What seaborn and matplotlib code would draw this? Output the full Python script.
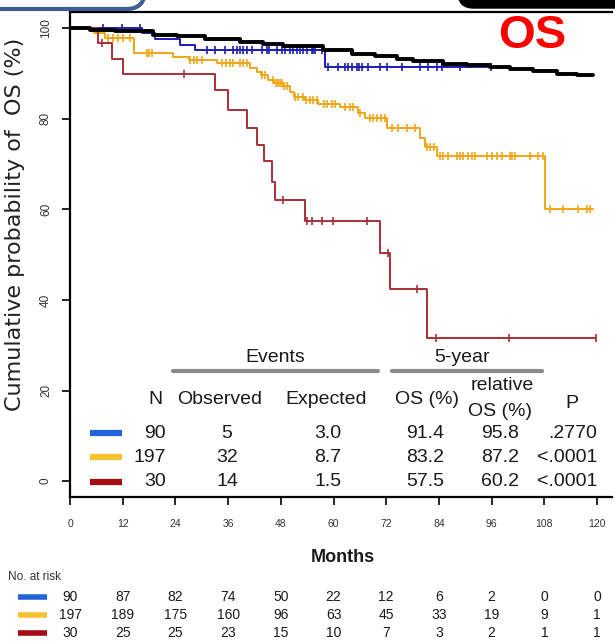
import numpy as np
import pandas as pd
import matplotlib
matplotlib.use("Agg")
import matplotlib.pyplot as plt
import seaborn as sns
from matplotlib.lines import Line2D
from matplotlib.patches import FancyBboxPatch
from matplotlib.transforms import blended_transform_factory

# ---------------------------------------------------------------- data
months_ticks = [0, 12, 24, 36, 48, 60, 72, 84, 96, 108, 120]
y_ticks = [0, 20, 40, 60, 80, 100]

# group 1 (blue)
blue_t = [0, 16.4, 19.4, 25.0, 28.5, 58.0]
blue_s = [100, 98.9, 97.7, 96.4, 95.2, 91.4]
blue_end = 95.8
blue_cens = [7.5, 11.8, 16.0, 31.2, 33.0, 35.3, 37.1, 38.0, 38.7, 39.4, 40.3,
             41.4, 43.7, 44.9, 45.3, 47.1, 48.3, 48.9, 50.1, 50.8, 51.7, 52.4,
             53.1, 54.0, 55.1, 55.4, 55.8, 57.4, 58.7, 61.0, 62.6, 63.3, 64.2,
             65.4, 65.8, 66.5, 67.9, 70.6, 72.2, 75.6, 79.7, 81.5, 83.6, 84.7,
             88.8, 95.8]

# group 2 (yellow)
yel_t = [0, 5.5, 8.0, 14.5, 23.5, 27.0, 33.5, 41.0, 42.5, 43.5, 45.0, 46.5,
         48.5, 50.0, 51.0, 53.5, 56.5, 61.5, 65.6, 67.2, 72.2, 79.7, 80.9,
         83.6, 108.2]
yel_s = [100, 98.9, 97.9, 94.6, 93.7, 92.9, 92.3, 91.3, 90.4, 89.6, 88.6, 87.9,
         87.2, 86.0, 84.9, 84.2, 83.2, 82.6, 81.3, 80.2, 78.0, 75.8, 73.8,
         71.8, 60.1]
yel_end = 119.0
yel_cens = [8.7, 9.8, 10.9, 12.1, 13.7, 17.5, 18.0, 18.7, 27.3, 28.2, 29.0,
            30.0, 34.6, 35.5, 36.4, 37.2, 38.7, 39.5, 40.3, 43.8, 44.5, 46.3,
            46.8, 47.3, 47.8, 48.3, 48.8, 49.3, 51.3, 52.0, 53.0, 53.8, 54.6,
            55.4, 56.2, 57.8, 58.6, 59.6, 60.4, 62.6, 63.8, 64.4, 66.1, 68.2,
            68.9, 70.0, 70.7, 71.8, 73.3, 74.7, 76.7, 78.6, 81.2, 81.9, 82.9,
            84.3, 85.0, 86.1, 88.2, 88.8, 89.5, 90.7, 91.6, 92.3, 95.0, 96.1,
            97.3, 98.4, 100.2, 100.6, 101.4, 104.8, 106.6, 107.7, 109.3, 112.3,
            115.7, 117.8, 118.5]

# group 3 (red)
red_t = [0, 6.4, 9.6, 12.1, 33.0, 36.0, 40.3, 42.6, 44.2, 45.9, 46.7, 53.5,
         70.6, 72.9, 81.3]
red_s = [100, 96.7, 93.3, 90.0, 86.4, 82.0, 78.0, 74.3, 70.6, 66.1, 62.1, 57.5,
         50.4, 42.4, 31.6]
red_end = 119.7
red_cens = [7.3, 26.0, 48.5, 54.0, 55.1, 57.4, 59.9, 67.6, 72.5, 79.0, 83.4,
            100.0, 119.7]

# expected survival of the matched general population
exp_t = [0, 4.5, 10.2, 19.0, 24.4, 30.7, 38.7, 44.0, 48.5, 57.6, 64.2, 69.5,
         74.5, 78.1, 84.9, 90.4, 95.6, 100.2, 105.4, 110.9, 115.4]
exp_s = [100, 99.7, 99.3, 98.6, 98.2, 97.7, 97.0, 96.5, 96.0, 95.2, 94.4, 93.8,
         93.2, 92.7, 92.2, 91.9, 91.5, 91.0, 90.5, 90.0, 89.6]
exp_end = 119.1

# summary table
tab_n = ["90", "197", "30"]
tab_obs = ["5", "32", "14"]
tab_exp = ["3.0", "8.7", "1.5"]
tab_os = ["91.4", "83.2", "57.5"]
tab_rel = ["95.8", "87.2", "60.2"]
tab_p = [".2770", "<.0001", "<.0001"]

# numbers at risk
risk_blue = [90, 87, 82, 74, 50, 22, 12, 6, 2, 0, 0]
risk_yel = [197, 189, 175, 160, 96, 63, 45, 33, 19, 9, 1]
risk_red = [30, 25, 25, 23, 15, 10, 7, 3, 2, 1, 1]

# ---------------------------------------------------------------- style
curve_cols = ["#1c1cb4", "#f2a516", "#a8303a"]
swatch_cols = ["#2165dc", "#f5c232", "#a80a12"]

sns.set_theme(style="white")
plt.rcParams["font.family"] = ["Liberation Sans", "DejaVu Sans"]

W, H = 615, 641
fig = plt.figure(figsize=(W / 100, H / 100), dpi=100)
ax = fig.add_axes([70 / W, 144 / H, 542 / W, 485 / H])


def px(x, y):
    """figure fraction from pixel position measured from top-left."""
    return x / W, 1 - y / H


def km_frame(times, surv, end):
    return pd.DataFrame({"month": list(times) + [end],
                         "surv": list(surv) + [surv[-1]]})


def surv_at(times, surv, when):
    idx = np.searchsorted(np.asarray(times), np.asarray(when), side="right") - 1
    return np.asarray(surv)[idx]


groups = [(blue_t, blue_s, blue_end, blue_cens),
          (yel_t, yel_s, yel_end, yel_cens),
          (red_t, red_s, red_end, red_cens)]

for (t, s, end, cens), col in zip(groups, curve_cols):
    df = km_frame(t, s, end)
    sns.lineplot(data=df, x="month", y="surv", drawstyle="steps-post",
                 color=col, lw=1.4, estimator=None, sort=False, ax=ax,
                 zorder=3)
    sns.scatterplot(x=cens, y=surv_at(t, s, cens), marker="|", s=40,
                    linewidth=1.2, color=col, ax=ax, zorder=4)

df_exp = km_frame(exp_t, exp_s, exp_end)
sns.lineplot(data=df_exp, x="month", y="surv", drawstyle="steps-post",
             color="black", lw=2.8, estimator=None, sort=False, ax=ax,
             zorder=5)

# ---------------------------------------------------------------- axes
ax.set_xlim(0, 542 / 4.392)
ax.set_ylim(-3.5, 103.6)
ax.set_xticks(months_ticks)
ax.set_yticks(y_ticks)
ax.set_xticklabels([str(m) for m in months_ticks], fontsize=7.5, color="#333333")
ax.set_yticklabels([str(v) for v in y_ticks], fontsize=8.5, color="#333333",
                   rotation=90, va="center")
ax.tick_params(axis="both", direction="out", length=6, width=1.2,
               color="black", bottom=True, left=True)
ax.tick_params(axis="x", pad=10)
ax.tick_params(axis="y", pad=7)
for side in ["left", "bottom", "top"]:
    ax.spines[side].set_color("black")
    ax.spines[side].set_linewidth(1.6)
ax.spines["right"].set_visible(False)
ax.set_xlabel("")
ax.set_ylabel("")
fig.text(*px(15, 224), "Cumulative probability of  OS (%)", fontsize=16,
         family=["DejaVu Sans"], color="#222222", rotation=90,
         ha="center", va="center")

# banner decorations along the top edge
fig.add_artist(FancyBboxPatch(px(-30, 9), 175 / W, 60 / H,
                              boxstyle="round,pad=0,rounding_size=0.03",
                              transform=fig.transFigure, facecolor="white",
                              edgecolor="#3c5e92", lw=3, zorder=10))
fig.add_artist(FancyBboxPatch(px(458, 8), 200 / W, 50 / H,
                              boxstyle="round,pad=0,rounding_size=0.025",
                              transform=fig.transFigure, facecolor="black",
                              edgecolor="black", lw=1, zorder=10))

# title tag
fig.text(*px(532, 48), "OS", color="#ff0000", fontsize=34, fontweight="bold",
         ha="center", va="baseline", zorder=20)

# ---------------------------------------------------------------- table
tfs = 14
txt = dict(fontsize=tfs, color="#1a1a1a", va="center")
fig.text(*px(275, 358), "Events", ha="center", **txt)
fig.text(*px(462, 358), "5-year", ha="center", **txt)
fig.add_artist(Line2D([173 / W, 378 / W], [1 - 371 / H] * 2, color="#8a8a8a",
                      lw=3, transform=fig.transFigure))
fig.add_artist(Line2D([392 / W, 542 / W], [1 - 371 / H] * 2, color="#8a8a8a",
                      lw=3, transform=fig.transFigure))
fig.text(*px(155, 399), "N", ha="center", **txt)
fig.text(*px(220, 399), "Observed", ha="center", **txt)
fig.text(*px(326, 399), "Expected", ha="center", **txt)
fig.text(*px(427, 399), "OS (%)", ha="center", **txt)
fig.text(*px(502, 385), "relative", ha="center", **txt)
fig.text(*px(500, 412), "OS (%)", ha="center", **txt)
fig.text(*px(572, 403), "P", ha="center", **txt)

row_y = [433, 457, 482]
for i, y in enumerate(row_y):
    fig.add_artist(Line2D([90 / W, 122 / W], [1 - y / H] * 2,
                          color=swatch_cols[i], lw=4.5,
                          transform=fig.transFigure, solid_capstyle="butt"))
    fig.text(*px(166, y), tab_n[i], ha="right", **txt)
    fig.text(*px(227, y), tab_obs[i], ha="center", **txt)
    fig.text(*px(328, y), tab_exp[i], ha="center", **txt)
    fig.text(*px(425, y), tab_os[i], ha="center", **txt)
    fig.text(*px(519, y), tab_rel[i], ha="right", **txt)
    fig.text(*px(597, y), tab_p[i], ha="right", **txt)

# ---------------------------------------------------------------- risk table
fig.text(*px(343, 557), "Months", fontsize=13, fontweight="bold",
         color="#1a1a1a", ha="center", va="center")
fig.text(*px(8, 577), "No. at risk", fontsize=8.5, color="#333333",
         ha="left", va="center")
risk_tr = blended_transform_factory(ax.transData, fig.transFigure)
risk_rows = [risk_blue, risk_yel, risk_red]
risk_y = [597, 615, 633]
for i, (vals, y) in enumerate(zip(risk_rows, risk_y)):
    fig.add_artist(Line2D([18 / W, 47 / W], [1 - y / H] * 2,
                          color=swatch_cols[i], lw=4,
                          transform=fig.transFigure, solid_capstyle="butt"))
    for m, v in zip(months_ticks, vals):
        ax.text(m, 1 - y / H, str(v), transform=risk_tr, fontsize=10,
                color="#1a1a1a", ha="center", va="center", clip_on=False)

fig.savefig("out.png", dpi=100)
